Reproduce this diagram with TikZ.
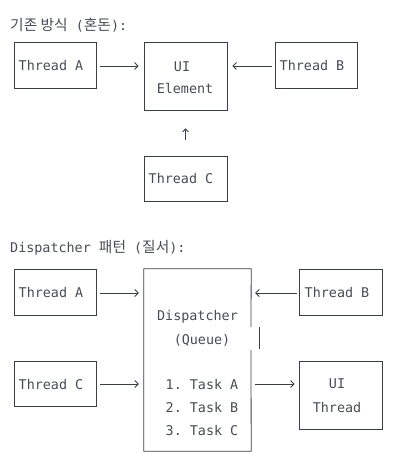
\documentclass[tikz,border=0pt]{standalone}
\usepackage{fontspec}
\setmonofont{DejaVu Sans Mono}
\newfontfamily\krfont[Scale=1.1]{Noto Sans CJK KR}
\usetikzlibrary{arrows.meta}
\definecolor{ink}{HTML}{3A3F47}
\definecolor{txtc}{HTML}{484D55}
\tikzset{
  boxnode/.style={draw=ink, line width=0.8pt, inner sep=0pt},
  lbl/.style={text=txtc, font=\ttfamily\fontsize{13.4}{15}\selectfont, inner sep=0pt, anchor=center},
  ttl/.style={text=txtc, font=\ttfamily\fontsize{13.4}{15}\selectfont, inner sep=0pt, anchor=west},
  conn/.style={draw=ink, line width=0.8pt, -{Straight Barb[length=3.5pt,width=7pt]}},
}
\begin{document}
\begin{tikzpicture}[x=1pt,y=-1pt]
\useasboundingbox[fill=white] (0,0) rectangle (409,460);

% ---- Top section
\node[ttl] (t1) at (10,25) {{\krfont 기존 방식} ({\krfont 혼돈}):};

\node[boxnode, minimum width=82pt, minimum height=46pt] (ta) at (55,65) {};
\node[lbl] (ta-t) at (51,66) {Thread A};
\node[boxnode, minimum width=83pt, minimum height=68pt] (ui) at (185.5,76) {};
\node[lbl] (ui-t1) at (182,67) {UI};
\node[lbl] (ui-t2) at (185,88) {Element};
\node[boxnode, minimum width=82pt, minimum height=46pt] (tb) at (316,65) {};
\node[lbl] (tb-t) at (312,66) {Thread B};
\node[boxnode, minimum width=83pt, minimum height=45pt] (tc) at (185.5,178.5) {};
\node[lbl] (tc-t) at (181,179) {Thread C};

\draw[conn, shorten <=4pt, shorten >=5pt] (ta.east |- 0,66) -- (ui.west |- 0,66);
\draw[conn, shorten <=3pt, shorten >=5pt] (tb.west |- 0,66) -- (ui.east |- 0,66);
\draw[conn, shorten <=16pt, shorten >=18pt, -{Straight Barb[length=3pt,width=6pt]}] (tc.north) -- (ui.south);

% ---- Bottom section
\node[ttl] (t2) at (10,248) {Dispatcher {\krfont 패턴} ({\krfont 질서}):};

\node[boxnode, minimum width=82pt, minimum height=46pt] (a2) at (55,292) {};
\node[lbl] (a2-t) at (51,293) {Thread A};
\node[boxnode, minimum width=83pt, minimum height=46pt] (b2) at (340.5,292) {};
\node[lbl] (b2-t) at (337,293) {Thread B};
\node[boxnode, minimum width=82pt, minimum height=45pt] (c2) at (55,383.5) {};
\node[lbl] (c2-t) at (51,384) {Thread C};
\node[boxnode, minimum width=83pt, minimum height=68pt] (ut) at (340.5,395) {};
\node[lbl] (ut-t1) at (337,384) {UI};
\node[lbl] (ut-t2) at (337,407) {Thread};

\node[inner sep=0pt, minimum width=107pt, minimum height=182pt] (dsp) at (197.5,360) {};
\draw[ink, line width=0.8pt] (251,327) -- (dsp.north east) -- (dsp.north west) -- (dsp.south west) -- (dsp.south east) -- (251,350);
\draw[ink, line width=0.8pt] (259,327) -- (259,349);
\node[lbl] (d-t1) at (197.5,317) {Dispatcher};
\node[lbl] (d-t2) at (202,340) {(Queue)};
\node[lbl] (d-t3) at (202,384) {1. Task A};
\node[lbl] (d-t4) at (202,407) {2. Task B};
\node[lbl] (d-t5) at (202,430) {3. Task C};

\draw[conn, shorten <=4pt, shorten >=5pt] (a2.east |- 0,293) -- (dsp.west |- 0,293);
\draw[conn, shorten <=2pt, shorten >=4pt] (b2.west |- 0,293) -- (dsp.east |- 0,293);
\draw[conn, shorten <=4pt, shorten >=5pt] (c2.east |- 0,384) -- (dsp.west |- 0,384);
\draw[conn, shorten <=4pt, shorten >=4pt] (dsp.east |- 0,384) -- (ut.west |- 0,384);
\end{tikzpicture}
\end{document}
